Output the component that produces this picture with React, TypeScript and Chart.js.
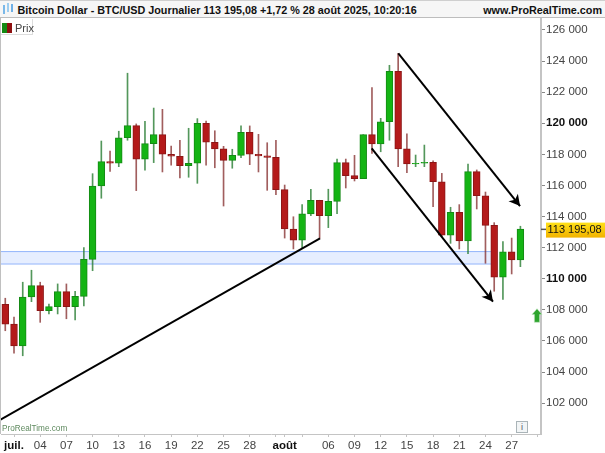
import React, { useEffect, useRef } from "react";
import { Chart, registerables } from "chart.js";

Chart.register(...registerables);

const opens = [108360,107090,105680,108830,109560,107950,108210,109170,108210,108870,111250,115970,117530,117430,119070,119850,117700,118690,119270,118010,117880,117270,117430,120000,118780,118350,117620,117940,119420,118010,117900,117810,115730,113200,112480,114170,115050,114060,114980,117470,116630,116440,119270,118670,120100,123340,118350,117380,117430,117490,116240,112800,114280,112430,116890,115340,113440,110100,111740,111210];
const closes = [107090,105680,108830,109560,107950,108210,109170,108210,108870,111250,115970,117530,117430,119070,119850,117700,118690,119270,118010,117880,117270,117430,120000,118780,118350,117620,117940,119420,118010,117900,117810,115730,113200,112480,114170,115050,114060,114980,117470,116630,116440,119270,118670,120100,123340,118350,117380,117430,117490,116240,112800,114280,112430,116890,115340,113440,110100,111740,111210,113195];
const highs = [108750,107540,109780,110550,109780,108380,109670,109670,109200,112000,116760,118860,118220,119490,123220,119960,120130,120980,120900,118540,118910,119680,120300,120150,119520,118520,118330,119830,119830,119290,118750,118910,116030,113990,114770,115760,115050,115760,117700,117700,117940,119270,122290,120320,123730,124500,119330,117960,118600,117580,116780,114600,114770,117380,117000,115580,113610,112390,112620,113380];
const lows = [106660,105210,105050,108530,107200,107740,107740,107430,107350,108250,110520,115180,116910,117210,118910,115670,116980,117470,116870,117300,116480,116530,116140,117300,117140,114680,117110,117790,117340,116870,115690,115410,112620,111920,111940,114060,112600,113290,114190,115840,116290,116440,118070,118170,118910,117210,116820,117210,117210,114640,112710,112280,111920,111610,114490,111000,109200,108680,110310,110780];

const yTickValues = [102000,104000,106000,108000,110000,112000,114000,116000,118000,120000,122000,124000,126000];
const boldYTicks = [110000, 120000];
const xTickIndexes = [1,4,7,10,13,16,19,22,25,28,31,32,34,37,40,43,46,49,52,55,58,61];
const xTickLabels: Record<number, string> = {1:"juil.",4:"04",7:"07",10:"10",13:"13",16:"16",19:"19",22:"22",25:"25",28:"28",32:"août",37:"06",40:"09",43:"12",46:"15",49:"18",52:"21",55:"24",58:"27"};
const boldXTicks = [1, 32];

const supportLine = [{ x: -0.61, y: 100920 }, { x: 36.05, y: 112600 }];
const lowerArrow = [{ x: 41.97, y: 118390 }, { x: 55.86, y: 108530 }];
const upperArrow = [{ x: 45.02, y: 124500 }, { x: 58.96, y: 114680 }];
const bandLow = 110950;
const bandHigh = 111750;
const bandEndIndex = 56.1;
const lastPrice = 113195.08;
const lastPriceLabel = "113 195,08";

const titleText = "Bitcoin Dollar - BTC/USD Journalier 113 195,08 +1,72 % 28 août 2025, 10:20:16";
const siteText = "www.ProRealTime.com";
const legendText = "Prix";
const watermarkText = "ProRealTime.com";

const GREEN = "#14b414";
const GREEN_EDGE = "#148a14";
const RED = "#b41a1a";
const RED_EDGE = "#8c1616";
const FONT = "'Liberation Sans', Arial, sans-serif";

const overlayPlugin = {
  id: "overlay",
  beforeDatasetsDraw(chart: any) {
    const { ctx, scales, chartArea } = chart;
    const y1 = scales.y.getPixelForValue(bandHigh);
    const y2 = scales.y.getPixelForValue(bandLow);
    const x2 = scales.x.getPixelForValue(bandEndIndex);
    ctx.save();
    ctx.fillStyle = "#e6eeff";
    ctx.fillRect(chartArea.left, y1, x2 - chartArea.left, y2 - y1);
    ctx.strokeStyle = "#93b5fb";
    ctx.lineWidth = 1;
    ctx.strokeRect(chartArea.left - 2, y1, x2 - chartArea.left + 2, y2 - y1);
    ctx.restore();
  },
  afterDatasetsDraw(chart: any) {
    const { ctx, scales } = chart;
    [lowerArrow, upperArrow].forEach((pts) => {
      const ax = scales.x.getPixelForValue(pts[0].x);
      const ay = scales.y.getPixelForValue(pts[0].y);
      const bx = scales.x.getPixelForValue(pts[1].x);
      const by = scales.y.getPixelForValue(pts[1].y);
      const a = Math.atan2(by - ay, bx - ax);
      ctx.save();
      ctx.translate(bx, by);
      ctx.rotate(a);
      ctx.fillStyle = "#000";
      ctx.beginPath();
      ctx.moveTo(0, 0);
      ctx.lineTo(-11, -6);
      ctx.lineTo(-8, 0);
      ctx.lineTo(-11, 6);
      ctx.closePath();
      ctx.fill();
      ctx.restore();
    });
    const py = scales.y.getPixelForValue(lastPrice);
    const axisX = chart.chartArea.right;
    ctx.save();
    ctx.fillStyle = "#555";
    ctx.fillRect(axisX, py - 0.5, 5, 1.5);
    const grad = ctx.createLinearGradient(0, py - 7, 0, py + 8);
    grad.addColorStop(0, "#ffe21a");
    grad.addColorStop(1, "#f2b400");
    ctx.fillStyle = grad;
    ctx.fillRect(546, py - 6.5, 59, 15);
    ctx.fillStyle = "#111";
    ctx.font = `11px ${FONT}`;
    ctx.textBaseline = "middle";
    ctx.fillText(lastPriceLabel, 547.5, py + 1.3);
    ctx.fillStyle = "#2ea52e";
    ctx.strokeStyle = "#bfe3bf";
    ctx.lineWidth = 0.6;
    ctx.beginPath();
    ctx.moveTo(537, 308.7);
    ctx.lineTo(542, 314.5);
    ctx.lineTo(539.6, 314.5);
    ctx.lineTo(539.6, 322.3);
    ctx.lineTo(534.4, 322.3);
    ctx.lineTo(534.4, 314.5);
    ctx.lineTo(532, 314.5);
    ctx.closePath();
    ctx.fill();
    ctx.stroke();
    ctx.restore();
  },
};

export default function App() {
  const ref = useRef<HTMLCanvasElement | null>(null);

  useEffect(() => {
    document.body.style.margin = "0";
    const wicks = opens.map((_, i) => ({ x: i, y: [lows[i], highs[i]] }));
    const bodies = opens.map((o, i) => ({ x: i, y: [o, closes[i]] }));
    const isUp = (i: number) => closes[i] >= opens[i];
    const lineBase = {
      type: "line" as const,
      borderColor: "#000",
      borderWidth: 2,
      pointRadius: 0,
      tension: 0,
      order: 0,
    };
    const chart = new Chart(ref.current as HTMLCanvasElement, {
      type: "bar",
      data: {
        datasets: [
          {
            label: "Mèches",
            data: wicks as any,
            barThickness: 1,
            grouped: false,
            backgroundColor: wicks.map((_, i) => (isUp(i) ? "rgba(40,125,50,0.8)" : "rgba(130,40,40,0.75)")),
            order: 3,
          },
          {
            label: legendText,
            data: bodies as any,
            barThickness: 6.8,
            grouped: false,
            borderWidth: 1,
            borderSkipped: false,
            backgroundColor: bodies.map((_, i) => (isUp(i) ? GREEN : RED)),
            borderColor: bodies.map((_, i) => (isUp(i) ? GREEN_EDGE : RED_EDGE)),
            order: 2,
          },
          { ...lineBase, label: "Support", data: supportLine },
          { ...lineBase, label: "Baisse 1", data: lowerArrow },
          { ...lineBase, label: "Baisse 2", data: upperArrow },
        ] as any,
      },
      options: {
        responsive: false,
        animation: false,
        devicePixelRatio: 1,
        layout: { padding: { top: 19, left: 1, right: 0, bottom: 0 } },
        plugins: { legend: { display: false }, tooltip: { enabled: false }, title: { display: false } },
        scales: {
          x: {
            type: "linear",
            offset: false,
            min: -0.49,
            max: 61.36,
            grid: { display: true, drawOnChartArea: false, drawTicks: true, tickLength: 3, tickColor: "#c4c4c4", offset: false },
            border: { color: "#c4c4c4", width: 1 },
            afterBuildTicks: (s: any) => {
              s.ticks = xTickIndexes.map((value) => ({ value }));
            },
            afterFit: (s: any) => {
              s.height = 19;
            },
            ticks: {
              autoSkip: false,
              maxRotation: 0,
              padding: 2,
              color: (c: any) => (boldXTicks.includes(c.tick?.value) ? "#111" : "#444"),
              font: (c: any) => ({ family: FONT, size: 11.5, weight: boldXTicks.includes(c.tick?.value) ? "bold" : "normal" }),
              callback: (v: any) => xTickLabels[v as number] ?? "",
            },
          },
          y: {
            type: "linear",
            position: "right",
            min: 100019,
            max: 126707,
            grid: { display: true, drawOnChartArea: false, drawTicks: true, tickLength: 4, tickColor: "#888" },
            border: { color: "#c4c4c4", width: 2 },
            afterBuildTicks: (s: any) => {
              s.ticks = yTickValues.map((value) => ({ value }));
            },
            afterFit: (s: any) => {
              s.width = 64;
            },
            ticks: {
              padding: 1,
              color: (c: any) => (boldYTicks.includes(c.tick?.value) ? "#111" : "#444"),
              font: (c: any) => ({ family: FONT, size: 11.5, weight: boldYTicks.includes(c.tick?.value) ? "bold" : "normal" }),
              callback: (v: any) => String(v).replace(/(\d{3})$/, " $1"),
            },
          },
        },
      } as any,
      plugins: [overlayPlugin],
    });
    return () => chart.destroy();
  }, []);

  const abs = (o: React.CSSProperties): React.CSSProperties => ({ position: "absolute", ...o });

  return (
    <div style={{ position: "relative", width: 605, height: 453, background: "#fff", overflow: "hidden", fontFamily: FONT }}>
      <canvas ref={ref} width={605} height={453} style={{ position: "absolute", left: 0, top: 0, display: "block" }} />
      <div style={abs({ left: 0, top: 0, width: 605, height: 18, background: "#f6f6f6", borderTop: "1px solid #cfcfcf", borderBottom: "1px solid #bdbdbd", boxSizing: "border-box" })} />
      <div style={abs({ left: 3, top: 5, width: 2, height: 9, background: "#7ab8e8" })} />
      <div style={abs({ left: 7, top: 3, width: 2, height: 9, background: "#9ccdf0" })} />
      <div style={abs({ left: 11, top: 4, width: 2, height: 8, background: "#6fb0e6" })} />
      <div style={abs({ left: 17.5, top: 3, fontSize: 10.8, fontWeight: "bold", color: "#111", whiteSpace: "nowrap", lineHeight: "14px" })}>{titleText}</div>
      <div style={abs({ right: 3, top: 3, fontSize: 10.8, fontWeight: "bold", color: "#111", whiteSpace: "nowrap", lineHeight: "14px" })}>{siteText}</div>
      <div style={abs({ left: 0, top: 18, width: 0, height: 416, borderLeft: "1px solid #c0c0c0" })} />
      <div style={abs({ left: 1, top: 19, width: 32, height: 16, background: "#fff", borderRight: "1px solid #ddd", borderBottom: "1px solid #ddd", boxSizing: "border-box" })} />
      <div style={abs({ left: 2, top: 22.5, width: 5, height: 10, background: GREEN_EDGE })} />
      <div style={abs({ left: 7, top: 22.5, width: 5, height: 10, background: "#8e1010" })} />
      <div style={abs({ left: 15, top: 21, fontSize: 11, color: "#444", lineHeight: "14px" })}>{legendText}</div>
      <div style={abs({ left: 2, top: 424, fontSize: 8.2, color: "#5f8a5f", lineHeight: "10px", whiteSpace: "nowrap" })}>{watermarkText}</div>
      <div style={abs({ left: 516, top: 421, width: 10, height: 10, border: "1px solid #aab4b8", background: "#f2f5f6", fontSize: 9, lineHeight: "10px", textAlign: "center", color: "#556", boxSizing: "content-box" })}>i</div>
    </div>
  );
}
